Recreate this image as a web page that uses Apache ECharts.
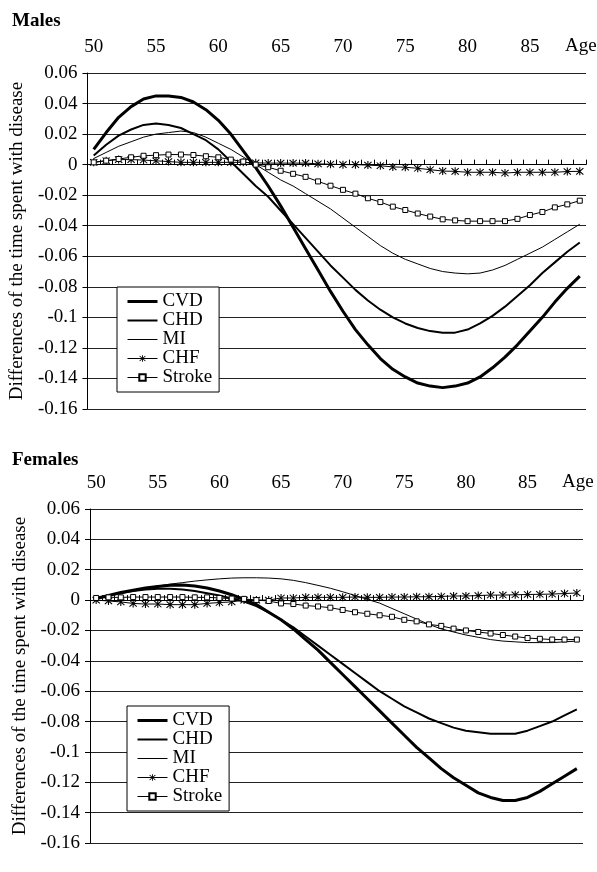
<!DOCTYPE html>
<html><head><meta charset="utf-8">
<script src="https://cdn.jsdelivr.net/npm/echarts@6/dist/echarts.min.js"></script>
<style>html,body{margin:0;padding:0;background:#fff}#c{width:597px;height:872px}</style>
</head><body><div id="c"></div>
<script>
const ages = ['50','51','52','53','54','55','56','57','58','59','60','61','62','63','64','65','66','67','68','69',
  '70','71','72','73','74','75','76','77','78','79','80','81','82','83','84','85','86','87','88','89'];
const seriesNames = ['CVD','CHD','MI','CHF','Stroke'];

const maleCVD = [0.010,0.021,0.031,0.038,0.043,0.045,0.045,0.044,0.041,0.036,0.029,0.020,0.009,-0.002,-0.014,-0.027,-0.041,-0.055,-0.069,-0.083,
  -0.096,-0.108,-0.118,-0.127,-0.134,-0.139,-0.143,-0.145,-0.146,-0.145,-0.143,-0.139,-0.133,-0.126,-0.118,-0.109,-0.100,-0.090,-0.081,-0.073];
const maleCHD = [0.006,0.013,0.019,0.023,0.026,0.027,0.026,0.024,0.020,0.016,0.010,0.002,-0.006,-0.014,-0.021,-0.030,-0.039,-0.048,-0.057,-0.066,
  -0.074,-0.082,-0.089,-0.095,-0.100,-0.104,-0.107,-0.109,-0.110,-0.110,-0.108,-0.104,-0.099,-0.093,-0.086,-0.079,-0.071,-0.064,-0.057,-0.051];
const maleMI = [0.004,0.008,0.012,0.015,0.018,0.020,0.021,0.022,0.021,0.018,0.014,0.010,0.005,0.000,-0.005,-0.010,-0.014,-0.019,-0.024,-0.029,
  -0.035,-0.041,-0.047,-0.053,-0.058,-0.062,-0.065,-0.068,-0.070,-0.071,-0.0715,-0.071,-0.069,-0.066,-0.062,-0.058,-0.054,-0.049,-0.044,-0.039];
const maleCHF = [0.0015,0.0026,0.0033,0.0033,0.003,0.0025,0.002,0.0015,0.0015,0.0015,0.0015,0.0015,0.0015,0.0012,0.001,0.001,0.001,0.001,0.0005,0.0003,
  0.0,0.0,-0.0003,-0.0007,-0.0015,-0.0017,-0.0024,-0.0033,-0.0042,-0.0044,-0.005,-0.005,-0.005,-0.0055,-0.005,-0.005,-0.005,-0.005,-0.0045,-0.0044];
const maleStroke = [0.0015,0.0026,0.0037,0.0048,0.0058,0.0062,0.0066,0.0066,0.0063,0.0055,0.0048,0.0033,0.002,0.0,-0.0017,-0.004,-0.006,-0.008,-0.011,-0.0138,
  -0.0165,-0.019,-0.022,-0.0245,-0.0275,-0.0297,-0.032,-0.034,-0.0358,-0.0365,-0.037,-0.037,-0.037,-0.037,-0.0355,-0.033,-0.031,-0.028,-0.026,-0.0236];

const femaleCVD = [0.001,0.003,0.005,0.0065,0.008,0.009,0.0097,0.0099,0.0093,0.008,0.006,0.0035,0.0005,-0.003,-0.008,-0.013,-0.019,-0.026,-0.033,-0.041,
  -0.049,-0.057,-0.065,-0.073,-0.081,-0.089,-0.097,-0.104,-0.111,-0.117,-0.122,-0.127,-0.130,-0.132,-0.132,-0.130,-0.126,-0.121,-0.116,-0.111];
const femaleCHD = [0.001,0.003,0.0045,0.006,0.007,0.0075,0.0075,0.007,0.006,0.0045,0.003,0.001,-0.001,-0.004,-0.008,-0.013,-0.018,-0.024,-0.030,-0.036,
  -0.042,-0.048,-0.054,-0.060,-0.065,-0.070,-0.074,-0.078,-0.081,-0.084,-0.086,-0.087,-0.088,-0.088,-0.088,-0.086,-0.083,-0.080,-0.076,-0.072];
const femaleMI = [0.0012,0.003,0.0048,0.0065,0.008,0.0093,0.0105,0.0115,0.0125,0.0133,0.014,0.0145,0.0147,0.0147,0.0145,0.014,0.013,0.0115,0.0097,0.0078,
  0.0055,0.003,0.0005,-0.002,-0.0055,-0.009,-0.0125,-0.016,-0.019,-0.021,-0.023,-0.0245,-0.026,-0.027,-0.0275,-0.028,-0.028,-0.028,-0.0275,-0.027];
const femaleCHF = [0,-0.0006,-0.0012,-0.0022,-0.0026,-0.0026,-0.003,-0.003,-0.003,-0.0022,-0.0016,-0.0012,0,0,0,0.0014,0.0014,0.0018,0.0018,0.0018,
  0.0018,0.002,0.0018,0.0018,0.002,0.002,0.0022,0.0022,0.0024,0.0027,0.0027,0.003,0.0033,0.0033,0.0035,0.0037,0.0038,0.004,0.0043,0.0047];
const femaleStroke = [0.0014,0.0018,0.0018,0.002,0.002,0.002,0.002,0.002,0.0018,0.0018,0.0014,0.001,0.0008,0.0,-0.0006,-0.0022,-0.0026,-0.0036,-0.0042,-0.005,
  -0.0065,-0.008,-0.009,-0.010,-0.011,-0.013,-0.014,-0.016,-0.017,-0.0188,-0.020,-0.021,-0.022,-0.023,-0.024,-0.025,-0.0255,-0.026,-0.026,-0.026];

const yMin = -0.16, yMax = 0.06, yStep = 0.02;
const yTitle = 'Differences of the time spent with disease';
const xName = 'Age';

const FONT = 'Liberation Serif';
const STAR = 'path://M4.4,0L5.6,0L5.6,10L4.4,10Z M0.58,1.42L1.42,0.58L9.42,8.58L8.58,9.42Z M8.58,0.58L9.42,1.42L1.42,9.42L0.58,8.58Z';
const LINE_W = {CVD: 3, CHD: 2, MI: 1, CHF: 1, Stroke: 1};

const grids = [
  {left: 83, right: 11, top: 73, bottom: 463},
  {left: 90, right: 14, top: 509, bottom: 29}
];

function xAxisFor(i) {
  return {
    type: 'category', gridIndex: i, data: ages, position: 'top', boundaryGap: true,
    axisLine: {lineStyle: {color: '#000', width: 1}},
    axisTick: {show: true, interval: 0, length: 5, lineStyle: {color: '#000'}},
    axisLabel: {interval: 4, margin: 16, fontSize: 19, fontFamily: FONT, color: '#000'},
    splitLine: {show: false}
  };
}
function yAxisFor(i, gap) {
  return {
    type: 'value', gridIndex: i, min: yMin, max: yMax, interval: yStep,
    axisLine: {show: true, lineStyle: {color: '#000'}},
    axisTick: {show: true, length: 5, lineStyle: {color: '#000'}},
    axisLabel: {margin: 10, fontSize: 19, fontFamily: FONT, color: '#000',
      formatter: v => String(parseFloat(v.toFixed(2)))},
    splitLine: {show: true, lineStyle: {color: '#222', width: 1}},
    name: yTitle, nameLocation: 'middle', nameGap: gap, nameRotate: 90,
    nameTextStyle: {fontSize: 19, fontFamily: FONT, color: '#000'}
  };
}
function seriesFor(i, cvd, chd, mi, chf, stroke) {
  const base = {type: 'line', xAxisIndex: i, yAxisIndex: i, animation: false, smooth: false};
  return [
    Object.assign({}, base, {name: 'CVD', data: cvd, symbol: 'none', lineStyle: {color: '#000', width: LINE_W.CVD}, itemStyle: {color: '#000'}}),
    Object.assign({}, base, {name: 'CHD', data: chd, symbol: 'none', lineStyle: {color: '#000', width: LINE_W.CHD}, itemStyle: {color: '#000'}}),
    Object.assign({}, base, {name: 'MI', data: mi, symbol: 'none', lineStyle: {color: '#000', width: LINE_W.MI}, itemStyle: {color: '#000'}}),
    Object.assign({}, base, {name: 'CHF', data: chf, symbol: STAR, symbolSize: 8, showSymbol: true,
      lineStyle: {color: '#000', width: LINE_W.CHF}, itemStyle: {color: '#000'}}),
    Object.assign({}, base, {name: 'Stroke', data: stroke, symbol: 'rect', symbolSize: 5, showSymbol: true,
      lineStyle: {color: '#000', width: LINE_W.Stroke}, itemStyle: {color: '#fff', borderColor: '#000', borderWidth: 1}})
  ];
}
const hiddenSym = {color: 'rgba(0,0,0,0)', borderWidth: 0, opacity: 0};
function legendFor(left, top) {
  return {
    data: [
      {name: 'CVD', itemStyle: hiddenSym, lineStyle: {width: LINE_W.CVD, color: '#000'}},
      {name: 'CHD', itemStyle: hiddenSym, lineStyle: {width: LINE_W.CHD, color: '#000'}},
      {name: 'MI', itemStyle: hiddenSym, lineStyle: {width: LINE_W.MI, color: '#000'}},
      {name: 'CHF', lineStyle: {width: LINE_W.CHF, color: '#000'}},
      {name: 'Stroke', lineStyle: {width: LINE_W.Stroke, color: '#000'}}
    ],
    orient: 'vertical', left: left, top: top, selectedMode: false,
    padding: [5, 7, 5, 9], itemGap: 0, itemWidth: 30, itemHeight: 8,
    backgroundColor: '#fff', borderColor: '#000', borderWidth: 1, borderRadius: 0,
    textStyle: {fontSize: 19, fontFamily: FONT, color: '#000', lineHeight: 19}
  };
}
const titleStyle = {fontSize: 19, fontWeight: 'bold', fontFamily: FONT, color: '#000'};
const ageStyle = {fontSize: 19, fontWeight: 'normal', fontFamily: FONT, color: '#000'};

const chart = echarts.init(document.getElementById('c'), null, {renderer: 'canvas'});
chart.setOption({
  backgroundColor: '#fff',
  animation: false,
  title: [
    {text: 'Males', left: 12, top: 12, padding: 0, textStyle: titleStyle},
    {text: 'Females', left: 12, top: 451, padding: 0, textStyle: titleStyle},
    {text: xName, left: 565, top: 37, padding: 0, textStyle: ageStyle},
    {text: xName, left: 562, top: 473, padding: 0, textStyle: ageStyle}
  ],
  grid: grids,
  xAxis: [xAxisFor(0), xAxisFor(1)],
  yAxis: [yAxisFor(0, 47), yAxisFor(1, 54)],
  legend: [legendFor(117, 287), legendFor(127, 706)],
  series: seriesFor(0, maleCVD, maleCHD, maleMI, maleCHF, maleStroke)
    .concat(seriesFor(1, femaleCVD, femaleCHD, femaleMI, femaleCHF, femaleStroke))
});
</script></body></html>
